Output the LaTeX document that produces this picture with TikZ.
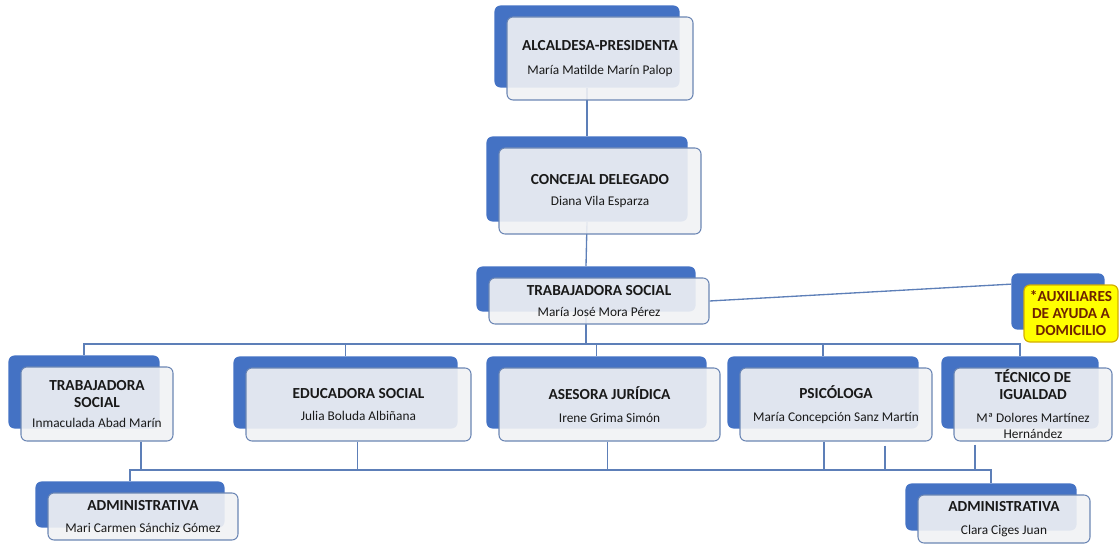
\documentclass[tikz,border=0pt]{standalone}
\usepackage{fontspec}
\setmainfont{Carlito}
\usepackage{tikz}
\usetikzlibrary{calc, fit, backgrounds}

\definecolor{azulfondo}{HTML}{4472C4}
\definecolor{bordecaja}{HTML}{6B86B4}
\definecolor{lineaorg}{HTML}{5D7FB8}
\definecolor{frente}{HTML}{F1F2F4}
\definecolor{amarillo}{HTML}{FFFF00}
\definecolor{bordeamarillo}{HTML}{D4AF00}
\definecolor{textoaux}{HTML}{6E2200}

\newcommand{\px}{0.75pt}
\newcommand{\titulo}[1]{{\fontsize{11.5}{12.5}\selectfont\bfseries #1}}
\newcommand{\sombra}[1]{\node[fondo, fit={($(#1.north west)+(-12,-11)$) ($(#1.south east)+(-14,-13)$)}] (#1-s) {};}

\begin{document}
\begin{tikzpicture}[x=0.75pt, y=-0.75pt]
    % Styles
    \tikzstyle{cargo} = [rectangle, draw=bordecaja, line width=0.8pt, fill=frente, fill opacity=0.9, text opacity=1, rounded corners=4.5pt, align=center, inner sep=0pt, text=black!90, font=\fontsize{10}{12.5}\selectfont]
    \tikzstyle{aviso} = [rectangle, draw=bordeamarillo, line width=0.9pt, fill=amarillo, rounded corners=4.5pt, align=center, inner sep=0pt, text=textoaux, font=\fontsize{11.5}{12.75}\selectfont\bfseries]
    \tikzstyle{fondo} = [rectangle, fill=azulfondo, rounded corners=4.5pt, inner sep=0pt]
    \tikzstyle{linea} = [draw=lineaorg, line width=1pt]

    \useasboundingbox (0,0) rectangle (1120,545);

    % --- DIRECCION ---
    \node [cargo, minimum width=186*\px, minimum height=83*\px] (alc) at (600,58.5) {\titulo{ALCALDESA-PRESIDENTA}\\[5.5pt]María Matilde Marín Palop};
    \node [cargo, minimum width=202*\px, minimum height=86*\px] (conc) at (600,191) {\titulo{CONCEJAL DELEGADO}\\[3.5pt]Diana Vila Esparza};
    \node [cargo, minimum width=220*\px, minimum height=46*\px] (ts) at (599,301) {\titulo{TRABAJADORA SOCIAL}\\[3.5pt]María José Mora Pérez};
    \node [aviso, minimum width=94*\px, minimum height=57*\px] (aux) at (1071,313.5) {*AUXILIARES\\DE AYUDA A\\DOMICILIO};

    % --- EQUIPO ---
    \node [cargo, minimum width=152*\px, minimum height=74*\px] (ts2) at (97,404) {\titulo{TRABAJADORA}\\\titulo{SOCIAL}\\[2.5pt]Inmaculada Abad Marín};
    \node [cargo, minimum width=225*\px, minimum height=73*\px] (edu) at (358.5,404.5) {\titulo{EDUCADORA SOCIAL}\\[4.5pt]Julia Boluda Albiñana};
    \node [cargo, minimum width=221*\px, minimum height=73*\px] (ase) at (609.5,404.5) {\titulo{ASESORA JURÍDICA}\\[4.5pt]Irene Grima Simón};
    \node [cargo, minimum width=192*\px, minimum height=73*\px] (psi) at (836,404.5) {\titulo{PSICÓLOGA}\\[4.5pt]María Concepción Sanz Martín};
    \node [cargo, minimum width=158*\px, minimum height=73*\px] (tec) at (1033,404.5) {\titulo{TÉCNICO DE}\\\titulo{IGUALDAD}\\[4.5pt]Mª Dolores Martínez\\Hernández};

    % --- ADMINISTRACION ---
    \node [cargo, minimum width=190*\px, minimum height=47*\px] (adm1) at (143,516.5) {\titulo{ADMINISTRATIVA}\\[4.5pt]Mari Carmen Sánchiz Gómez};
    \node [cargo, minimum width=172*\px, minimum height=48*\px] (adm2) at (1004,519) {\titulo{ADMINISTRATIVA}\\[4.5pt]Clara Ciges Juan};

    \begin{scope}[on background layer]
        % Blue backs
        \foreach \n in {alc, conc, ts, aux, ts2, edu, ase, psi, tec, adm1, adm2} {
            \sombra{\n}
        }

        % --- CONNECTIONS ---
        \coordinate (bus1) at (0,344);
        \coordinate (bus2) at (0,470);
        \draw [linea] (alc-s.south) -- (conc-s.north);
        \draw [linea] (conc-s.south) -- (ts-s.north);
        \draw [linea] (ts-s.south) -- (ts-s.south |- bus1);
        \draw [linea] (ts.east) -- ($(aux-s.north west)+(0,11)$);
        \draw [linea] (ts2-s.north) -- (ts2-s.north |- bus1) -| (tec-s.north);
        \foreach \n in {edu, ase, psi}
            \draw [linea] (\n-s.north) -- (\n-s.north |- bus1);

        \draw [linea] (adm1-s.north) -- (adm1-s.north |- bus2) -| (adm2-s.north);
        \foreach \n/\dx/\dy in {ts2/44/0, edu/-1/0, ase/-2/0, psi/-12/0, psi/49/4, tec/-58/3}
            \draw [linea] ($(\n.south)+(\dx,\dy)$) -- ($(\n.south |- bus2)+(\dx,0)$);
    \end{scope}

\end{tikzpicture}
\end{document}
